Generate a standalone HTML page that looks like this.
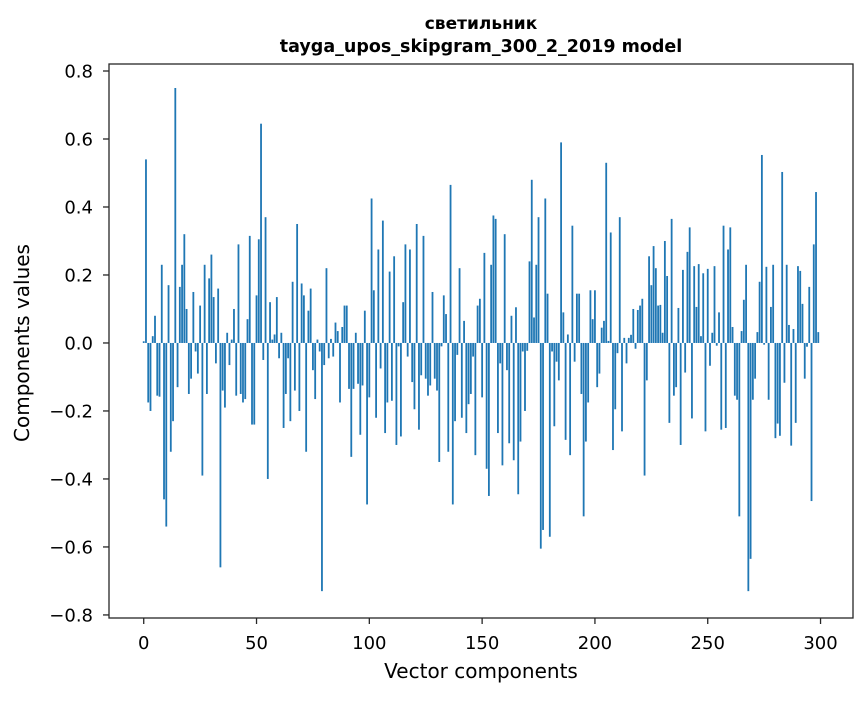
<!DOCTYPE html>
<html><head><meta charset="utf-8"><style>
body{margin:0;background:#fff}
svg text{font-family:"DejaVu Sans","Liberation Sans",sans-serif;fill:#000}
</style></head><body>
<svg id="chart" width="867" height="696" viewBox="0 0 867 696" xmlns="http://www.w3.org/2000/svg">
<text x="481" y="29" font-size="17" font-weight="bold" text-anchor="middle">светильник</text>
<text x="481" y="52" font-size="17.5" font-weight="bold" text-anchor="middle">tayga_upos_skipgram_300_2_2019 model</text>
<g id="bars"></g>
<g id="axes"></g>
<text x="481" y="678" font-size="20" text-anchor="middle">Vector components</text>
<text transform="translate(29,343) rotate(-90)" font-size="20" text-anchor="middle">Components values</text>
</svg>
<script>
const values1 = [0.005,0.54,-0.175,-0.2,0.02,0.08,-0.155,-0.158,0.23,-0.46,-0.54,0.17,-0.32,-0.23,0.75,-0.13,0.165,0.23,0.32,0.1,-0.15,-0.105,0.15,-0.025,-0.09,0.11,-0.39,0.23,-0.15,0.19,0.26,0.135,-0.06,0.16,-0.66,-0.14,-0.19,0.03,-0.065,0.01,0.1,-0.155,0.29,-0.15,-0.175,-0.165,0.07,0.315,-0.24,-0.24];
const values2 = [0.14,0.305,0.645,-0.05,0.37,-0.4,0.12,0.01,0.025,0.135,-0.045,0.03,-0.25,-0.15,-0.045,-0.23,0.18,-0.14,0.35,-0.2,0.175,0.14,-0.32,0.095,0.16,-0.08,-0.165,0.01,-0.025,-0.73,-0.065,0.22,-0.045,0.012,-0.04,0.06,0.035,-0.175,0.047,0.11,0.11,-0.135,-0.335,-0.135,0.03,-0.12,-0.27,-0.125,0.095,-0.475];
const values3 = [-0.16,0.425,0.155,-0.22,0.275,-0.075,0.36,-0.265,-0.175,0.21,-0.17,0.255,-0.3,-0.01,-0.275,0.12,0.29,-0.04,0.275,-0.115,-0.195,0.35,-0.255,-0.095,0.315,-0.105,-0.155,-0.125,0.15,-0.105,-0.14,-0.35,-0.01,0.14,0.085,-0.32,0.465,-0.475,-0.23,-0.035,0.22,-0.22,0.065,-0.265,-0.18,-0.15,-0.04,-0.33,0.11,0.13];
const values4 = [-0.16,0.265,-0.37,-0.45,0.23,0.375,0.365,-0.265,-0.06,-0.36,0.32,-0.08,-0.295,0.08,-0.345,0.105,-0.445,-0.29,-0.025,-0.2,-0.023,0.24,0.48,0.075,0.23,0.37,-0.605,-0.55,0.425,0.145,-0.57,-0.025,-0.245,-0.055,-0.11,0.59,0.09,-0.285,0.025,-0.33,0.345,-0.055,0.145,0.145,-0.15,-0.51,-0.29,-0.175,0.155,0.07];
const values5 = [0.155,-0.13,-0.09,0.045,0.065,0.53,0.006,0.325,-0.315,-0.195,-0.03,0.37,-0.26,0.015,-0.06,0.015,0.024,0.1,-0.017,0.097,0.11,0.13,-0.39,-0.11,0.255,0.17,0.285,0.22,0.11,0.112,0.03,0.3,0.197,-0.235,0.365,-0.155,-0.13,0.103,-0.3,0.215,-0.087,0.268,0.34,-0.222,0.226,0.106,0.232,0.02,0.205,-0.26];
const values6 = [0.218,-0.067,0.03,0.226,-0.008,0.09,-0.255,0.345,-0.25,0.275,0.34,0.047,-0.155,-0.167,-0.51,0.035,0.127,0.23,-0.73,-0.635,-0.167,-0.105,0.032,0.18,0.553,-0.005,0.224,-0.167,0.106,0.23,-0.28,-0.237,-0.273,0.503,-0.117,0.23,0.053,-0.302,0.041,-0.235,0.226,0.212,0.115,-0.105,-0.011,0.165,-0.465,0.29,0.444,0.032];
const values = values1.concat(values2, values3, values4, values5, values6);
const xTicks = [0,50,100,150,200,250,300];
const yTicks = [-0.8,-0.6,-0.4,-0.2,0.0,0.2,0.4,0.6,0.8];

const L=109,R=853,T=64,B=618;
const xMin=-15.39,xMax=314.39,yMin=-0.809,yMax=0.8206;
const xs=v=>L+(v-xMin)/(xMax-xMin)*(R-L);
const ys=v=>B-(v-yMin)/(yMax-yMin)*(B-T);
const NS="http://www.w3.org/2000/svg";
const bars=document.getElementById('bars');
values.forEach((v,i)=>{
  const r=document.createElementNS(NS,'rect');
  const x0=xs(i-0.4),x1=xs(i+0.4);
  const y0=ys(Math.max(v,0)),y1=ys(Math.min(v,0));
  r.setAttribute('x',x0);r.setAttribute('width',x1-x0);
  r.setAttribute('y',y0);r.setAttribute('height',Math.max(y1-y0,0.3));
  r.setAttribute('fill','#1f77b4');
  
  
  bars.appendChild(r);
});
const ax=document.getElementById('axes');
ax.innerHTML='<rect x="'+L+'" y="'+T+'" width="'+(R-L)+'" height="'+(B-T)+'" fill="none" stroke="#262626" stroke-width="1.3"/>';
xTicks.forEach(t=>{
  const x=xs(t);
  const l=document.createElementNS(NS,'line');
  l.setAttribute('x1',x);l.setAttribute('x2',x);l.setAttribute('y1',B);l.setAttribute('y2',B+6);l.setAttribute('stroke','#262626');l.setAttribute('stroke-width','1.3');
  
  
  ax.appendChild(l);
  const tx=document.createElementNS(NS,'text');
  tx.setAttribute('x',x);tx.setAttribute('y',B+31);tx.setAttribute('font-size','18');tx.setAttribute('text-anchor','middle');
  tx.textContent=t;
  
  
  ax.appendChild(tx);
});
yTicks.forEach(t=>{
  const y=ys(t);
  const l=document.createElementNS(NS,'line');
  l.setAttribute('x1',L-6);l.setAttribute('x2',L);l.setAttribute('y1',y);l.setAttribute('y2',y);l.setAttribute('stroke','#262626');l.setAttribute('stroke-width','1.3');
  
  
  ax.appendChild(l);
  const tx=document.createElementNS(NS,'text');
  tx.setAttribute('x',L-16);tx.setAttribute('y',y+6.5);tx.setAttribute('font-size','18');tx.setAttribute('text-anchor','end');
  tx.textContent=(t<0?'\u2212':'')+Math.abs(t).toFixed(1);
  
  
  ax.appendChild(tx);
});
</script>
</body></html>
